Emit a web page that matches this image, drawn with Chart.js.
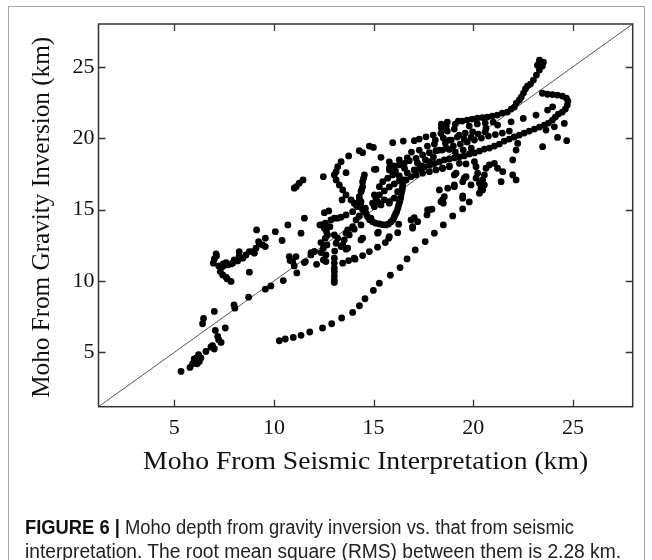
<!DOCTYPE html>
<html><head><meta charset="utf-8">
<script src="https://cdn.jsdelivr.net/npm/chart.js@4.4.1/dist/chart.umd.min.js"></script>
<style>
html,body{margin:0;padding:0;background:#fff;}
body{width:652px;height:560px;position:relative;overflow:hidden;}
#frame{position:absolute;left:8px;top:6px;width:637px;height:620px;border:1px solid #a8a8a8;box-sizing:border-box;}
#wrap{position:absolute;left:0;top:0;width:652px;height:560px;}
.cap{position:absolute;left:25px;font-family:"Liberation Sans Narrow","Liberation Sans",Arial,sans-serif;font-size:20px;line-height:22px;color:#222;white-space:nowrap;transform-origin:0 50%;}
.cap b{font-weight:bold;color:#111;}
</style></head>
<body>
<div id="frame"></div>
<div id="wrap"><canvas id="c" width="652" height="560"></canvas></div>
<div class="cap" id="cap1" style="top:516px"><b>FIGURE 6 |</b> Moho depth from gravity inversion vs. that from seismic</div>
<div class="cap" id="cap2" style="top:540px">interpretation. The root mean square (RMS) between them is 2.28 km.</div>
<script>
// axis settings (km)
const axisMin = 1.2, axisMax = 28;
const tickValues = [5, 10, 15, 20, 25];
const oneToOne = [axisMin, axisMax];
const xTitle = 'Moho From Seismic Interpretation (km)';
const yTitle = 'Moho From Gravity Inversion (km)';

// [seismic depth, gravity depth] pairs
const lowerLeftCluster = [[5.34,3.67],[5.79,3.95],[5.92,4.21],[6.01,4.44],[6.12,4.61],[6.22,4.84],[6.06,4.30],[6.26,4.37],[6.34,4.61],[6.15,4.20],[6.00,4.55],[6.59,5.07],[6.84,5.38],[6.92,5.47],[7.01,5.24],[7.23,5.89],[7.35,5.70],[7.18,6.12],[7.06,6.54],[7.56,6.71],[6.42,7.01],[6.47,7.38],[7.01,7.87]];
const alongDiagonal = [[8.00,8.33],[8.04,8.10],[8.73,8.87],[9.57,9.43],[9.85,9.66],[10.47,10.03],[11.15,10.57],[11.02,11.06],[10.81,11.43],[11.11,11.71],[11.58,11.36],[11.86,11.83],[12.14,11.17],[10.41,12.84],[10.77,11.71],[10.94,11.36],[11.53,11.29],[12.03,12.06],[12.48,11.48],[12.61,11.36],[12.61,11.83],[12.36,12.69],[12.36,11.99],[12.48,12.30],[12.66,12.53],[12.58,13.00],[12.69,13.23],[11.86,11.99]];
const upperLeftBranch = [[7.12,11.76],[6.96,11.25],[7.23,11.06],[7.31,10.66],[7.43,10.43],[7.60,10.27],[7.85,9.97],[7.66,10.15],[7.46,11.20],[7.60,11.29],[7.85,11.20],[8.01,11.48],[8.26,11.76],[8.26,12.06],[8.60,11.83],[8.77,12.06],[9.02,11.95],[9.10,12.30],[9.27,12.60],[9.57,12.41],[8.77,10.62],[7.01,11.55],[7.10,11.90],[8.44,11.60],[8.18,11.41],[7.93,11.25],[7.68,11.13],[7.43,11.01],[8.93,12.06]];
const midLeftScatter = [[11.53,14.40],[11.36,13.35],[10.70,13.93],[10.07,13.46],[9.57,13.00],[9.43,12.53],[9.13,13.58],[9.23,12.76],[11.46,17.08],[11.27,16.85],[11.12,16.61],[11.02,16.50],[12.48,17.31]];
const centralScatter = [[12.03,12.06],[12.41,13.93],[12.64,13.46],[13.03,13.23],[13.12,12.65],[13.37,12.41],[13.53,12.88],[13.62,12.23],[13.78,13.23],[14.03,13.63],[14.37,12.88],[14.28,14.56],[14.62,14.75],[14.87,14.40],[15.24,13.42],[12.53,14.79],[12.75,14.91],[13.03,14.40],[13.37,14.47],[13.62,14.63],[13.95,14.86],[14.12,15.33],[14.37,15.56],[14.59,15.10],[15.04,15.21],[15.20,15.56],[15.79,15.56],[13.42,15.68],[13.20,14.40],[12.86,14.28],[12.58,14.05],[12.31,13.93],[12.53,13.70],[12.81,13.81],[13.95,13.81],[13.70,13.58],[13.45,12.53],[13.20,13.00],[14.37,13.93],[14.12,14.28],[13.62,17.59],[15.04,17.82],[15.04,16.03],[15.12,15.68],[15.37,18.66],[15.12,17.83],[13.62,13.35],[14.45,13.00],[13.70,12.30],[15.20,13.35],[15.79,13.11],[16.96,13.70]];
const column13 = [[13.05,12.10],[13.03,11.60],[13.03,11.25],[13.03,10.90],[13.03,10.66],[13.03,10.36],[13.03,10.08],[13.03,9.89]];
const sCurve = [[14.99,19.36],[14.79,19.45],[14.45,18.99],[14.28,19.13],[13.75,18.76],[13.37,18.36],[13.20,18.01],[13.12,17.66],[13.03,17.43],[13.12,17.08],[13.28,16.73],[13.45,16.38],[13.62,16.03],[13.87,15.68],[14.03,15.45],[14.20,15.21]];
const uCurve = [[14.54,17.43],[14.45,16.96],[14.45,16.61],[14.37,16.26],[14.28,15.91],[14.28,15.56],[14.37,15.21],[14.54,14.86],[14.70,14.51],[14.95,14.16],[15.29,14.00],[15.62,13.93],[15.88,14.16],[16.04,14.51],[16.16,14.86],[16.26,15.33],[16.33,15.68],[16.38,16.03],[16.43,16.38],[16.46,16.73],[16.49,17.08],[14.50,17.20],[14.40,16.40],[14.30,15.70],[14.45,15.00],[14.80,14.30],[15.10,14.05],[15.45,13.95],[15.75,14.00],[15.98,14.30],[16.10,14.70],[16.22,15.10],[16.30,15.50],[16.36,15.85],[16.40,16.20],[16.45,16.55],[16.48,16.90]];
const secondLowerLine = [[13.45,11.25],[13.75,11.43],[14.03,11.60],[14.07,11.53],[14.45,11.78],[14.79,12.06],[15.20,12.37],[15.59,12.69],[15.76,13.00],[16.21,13.39],[16.26,13.98],[16.96,13.81],[17.04,14.44],[17.21,14.16],[17.68,14.63],[17.80,14.98],[17.93,15.03],[18.50,15.45]];
const longLowerCurve = [[10.27,5.82],[10.57,5.94],[10.97,6.05],[11.36,6.20],[11.80,6.43],[12.44,6.71],[12.90,7.01],[13.40,7.41],[13.95,7.80],[14.29,8.27],[14.57,8.76],[14.99,9.34],[15.29,9.85],[15.84,10.41],[16.33,10.94],[16.68,11.55],[17.09,12.18],[17.59,12.76],[18.05,13.35],[18.50,13.93],[18.97,14.56],[19.47,15.05],[19.80,15.54]];
const crossingBand = [[15.29,16.03],[15.54,16.31],[15.79,16.59],[16.04,16.80],[16.29,17.01],[15.79,17.78],[15.96,17.43],[15.71,17.20],[15.46,16.96],[15.29,16.61],[16.21,16.26],[16.04,15.80],[15.79,15.45],[15.54,15.68],[15.37,15.33],[15.12,15.91],[14.95,15.45],[15.79,17.92],[16.04,18.06],[16.29,18.13],[16.54,18.24],[16.79,18.43],[17.13,18.59],[17.46,18.83],[17.80,18.99],[18.13,19.13],[18.46,19.17],[18.80,19.22],[16.63,17.08],[16.88,17.31],[17.13,17.43],[17.46,17.55],[17.80,17.66],[18.13,17.78],[18.46,17.90],[18.80,18.01],[15.96,19.69],[16.49,19.80],[17.04,19.83],[17.29,19.94],[17.63,20.10],[17.99,20.22],[18.38,20.34],[18.70,20.50]];
const crossingFill = [[16.29,17.36],[16.69,17.57],[17.04,17.78],[17.39,18.06],[17.80,18.34],[16.29,18.48],[16.69,18.62],[17.20,18.27],[17.60,18.48],[18.00,18.69],[17.29,19.17],[17.70,19.45],[18.05,19.59],[16.90,19.03],[15.79,18.34],[16.10,17.70],[16.55,17.90]];
const upperCurve = [[23.32,25.47],[23.52,25.33],[23.22,25.12],[23.47,25.06],[23.32,24.78],[23.17,24.42],[23.02,24.07],[22.87,23.79],[22.72,23.65],[22.62,23.45],[22.52,23.16],[22.41,22.88],[22.31,22.67],[22.16,22.46],[22.06,22.18],[21.91,22.04],[21.71,21.83],[21.46,21.76],[21.21,21.62],[20.96,21.55],[20.71,21.48],[20.46,21.45],[20.21,21.41],[19.95,21.34],[19.70,21.27],[19.45,21.20],[19.25,21.20],[19.10,20.99],[19.05,20.64]];
const loopAndBand = [[23.47,23.15],[23.72,23.08],[23.97,23.06],[24.22,23.02],[24.47,22.95],[24.67,22.81],[24.75,22.60],[24.72,22.32],[24.62,22.04],[24.47,21.83],[24.27,21.69],[24.12,21.48],[23.97,21.27],[23.77,21.06],[23.57,20.92],[23.32,20.78],[23.07,20.64],[22.81,20.50],[22.56,20.36],[22.31,20.22],[22.06,20.08],[21.81,19.94],[21.56,19.80],[21.31,19.59],[21.06,19.45],[20.81,19.31],[20.56,19.24],[20.31,19.10],[20.06,18.97],[19.81,18.90],[19.55,18.76],[19.30,18.69],[19.05,18.62],[18.80,18.55],[18.55,18.48],[18.30,18.34],[18.05,18.23],[17.80,18.13],[17.55,17.99],[17.30,17.85]];
const middleDotted = [[19.30,20.22],[19.60,20.36],[19.97,20.45],[20.64,20.69],[21.22,20.92],[21.90,21.15],[22.51,21.39],[23.15,21.62],[23.73,21.97],[23.98,22.20]];
const midBand = [[18.30,19.17],[18.65,19.31],[19.00,19.45],[19.35,19.59],[19.70,19.73],[20.06,19.87],[20.41,20.01],[20.76,20.15],[21.11,20.26],[21.46,20.36],[21.81,20.50],[18.40,20.71],[18.65,20.85],[18.50,20.01],[18.80,19.87],[18.10,19.87]];
const upperBandFill = [[18.40,20.99],[18.70,21.13],[18.60,19.66],[18.90,19.87],[19.20,20.08],[19.55,19.94],[19.90,20.08],[20.25,20.29],[20.60,20.43],[19.80,20.85],[20.20,21.00],[20.60,21.06],[21.00,21.13],[19.10,19.03],[19.50,19.17],[19.90,19.31]];
const lowerRightScatter = [[18.46,17.90],[18.80,18.06],[19.30,18.24],[19.64,18.20],[19.05,17.43],[19.64,17.31],[19.47,16.96],[19.05,16.61],[18.55,15.91],[18.46,15.56],[19.47,15.96],[20.06,18.36],[20.14,18.01],[20.22,17.55],[20.14,17.20],[20.31,16.85],[20.39,16.50],[20.31,16.15],[20.47,17.08],[20.56,17.43],[20.64,17.90],[20.81,18.13],[21.06,18.24],[21.22,17.90],[21.48,17.66],[21.40,16.96],[21.98,17.43],[22.15,17.08],[21.98,18.48],[22.15,19.17],[22.23,19.64],[22.06,20.10],[20.47,16.38],[20.56,16.73],[19.14,17.55],[19.55,17.20],[19.89,16.73],[19.05,16.73],[18.72,16.50],[18.38,15.56],[18.30,16.38],[19.47,15.80],[16.88,14.28],[17.71,14.98],[18.46,15.68],[24.57,21.04],[24.07,20.80],[24.23,20.06],[24.69,19.83],[23.48,19.41],[23.65,20.57]];

const groups = [lowerLeftCluster, alongDiagonal, upperLeftBranch, midLeftScatter, centralScatter, column13, sCurve, uCurve, secondLowerLine, longLowerCurve, crossingBand, crossingFill, upperCurve, loopAndBand, middleDotted, midBand, upperBandFill, lowerRightScatter];
const points = [].concat(...groups).map(([x, y]) => ({x, y}));

const framePlugin = {
  id: 'frameTicksTitles',
  afterDraw(chart) {
    const {ctx, chartArea: a, scales: {x, y}} = chart;
    ctx.save();
    ctx.strokeStyle = '#333';
    ctx.lineWidth = 1.5;
    ctx.strokeRect(a.left, a.top, a.right - a.left, a.bottom - a.top);
    ctx.lineWidth = 1.3;
    ctx.beginPath();
    tickValues.forEach(v => {
      const px = Math.round(x.getPixelForValue(v)) + 0.5;
      ctx.moveTo(px, a.bottom); ctx.lineTo(px, a.bottom - 7);
      ctx.moveTo(px, a.top); ctx.lineTo(px, a.top + 7);
      const py = Math.round(y.getPixelForValue(v)) + 0.5;
      ctx.moveTo(a.left, py); ctx.lineTo(a.left + 7, py);
      ctx.moveTo(a.right, py); ctx.lineTo(a.right - 7, py);
    });
    ctx.stroke();
    ctx.fillStyle = '#111';
    ctx.textAlign = 'center';
    ctx.textBaseline = 'middle';
    ctx.font = '25px "Liberation Serif"';
    const cx = (a.left + a.right) / 2;
    const wx = ctx.measureText(xTitle).width;
    ctx.save(); ctx.translate(cx, 462); ctx.scale(445 / wx, 1); ctx.fillText(xTitle, 0, 0); ctx.restore();
    const cy = (a.top + a.bottom) / 2;
    const wy = ctx.measureText(yTitle).width;
    ctx.save(); ctx.translate(42, cy + 2); ctx.rotate(-Math.PI / 2); ctx.scale(361 / wy, 1); ctx.fillText(yTitle, 0, 0); ctx.restore();
    ctx.restore();
  }
};

const tickFont = {family: 'Liberation Serif', size: 22};
new Chart(document.getElementById('c'), {
  type: 'scatter',
  data: {
    datasets: [
      {type: 'line', data: oneToOne.map(v => ({x: v, y: v})), borderColor: '#444', borderWidth: 0.9, pointRadius: 0, fill: false, order: 2},
      {data: points, backgroundColor: '#000', borderWidth: 0, pointRadius: 3.4, pointHoverRadius: 3.4, order: 1}
    ]
  },
  options: {
    responsive: false, animation: false,
    layout: {padding: {left: 0, top: 24, right: 19.3, bottom: 0}},
    plugins: {legend: {display: false}, tooltip: {enabled: false}},
    scales: {
      x: {
        type: 'linear', min: axisMin, max: axisMax,
        afterBuildTicks: s => { s.ticks = tickValues.map(v => ({value: v})); },
        grid: {display: false, drawTicks: false}, border: {display: false},
        ticks: {font: tickFont, color: '#111', padding: 8, maxRotation: 0},
        afterFit: s => { s.height = 153.3; }
      },
      y: {
        type: 'linear', min: axisMin, max: axisMax,
        afterBuildTicks: s => { s.ticks = tickValues.map(v => ({value: v})); },
        grid: {display: false, drawTicks: false}, border: {display: false},
        ticks: {font: tickFont, color: '#111', padding: 4},
        afterFit: s => { s.width = 98.5; }
      }
    }
  },
  plugins: [framePlugin]
});

// fit caption lines to their measured widths in the figure
function fit(id, target) {
  const el = document.getElementById(id);
  const w = el.getBoundingClientRect().width;
  el.style.transform = 'scaleX(' + (target / w) + ')';
}
fit('cap1', 549);
fit('cap2', 596);
</script>
</body></html>
